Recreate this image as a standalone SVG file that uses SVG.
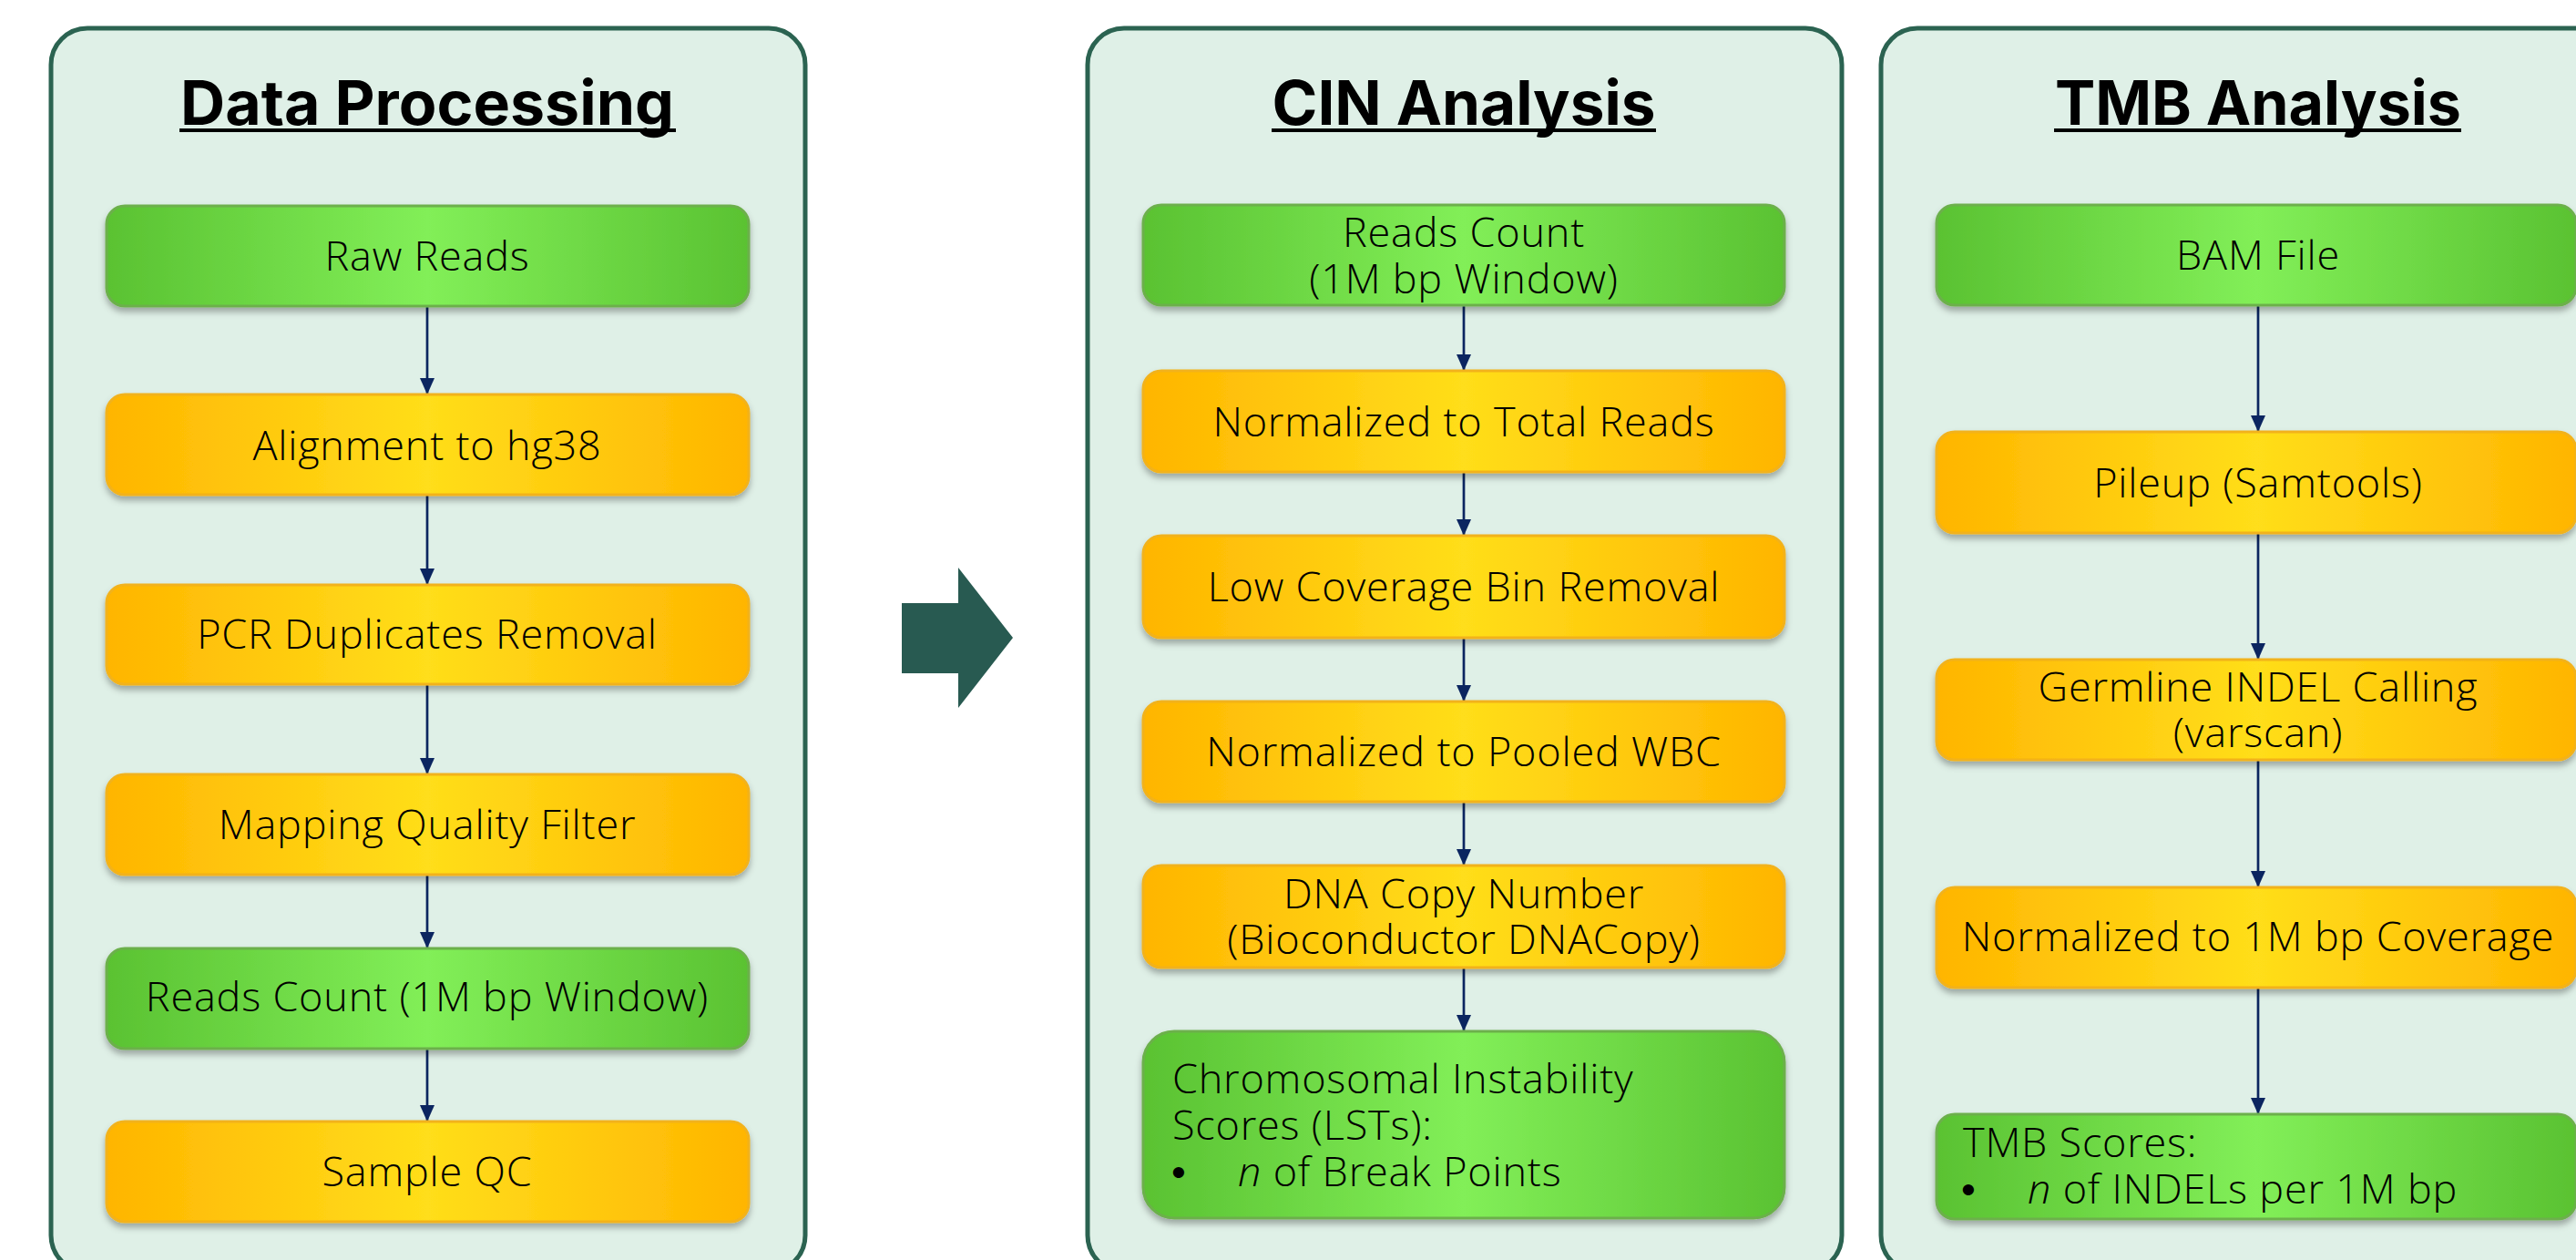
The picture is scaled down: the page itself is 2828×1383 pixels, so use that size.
<svg xmlns="http://www.w3.org/2000/svg" width="2828" height="1383" viewBox="0 0 2828 1383">
<defs>
<linearGradient id="gG" x1="0" y1="0" x2="1" y2="0">
<stop offset="0" stop-color="#5ac232"/><stop offset="0.5" stop-color="#82ef58"/><stop offset="1" stop-color="#5ac232"/>
</linearGradient>
<linearGradient id="gY" x1="0" y1="0" x2="1" y2="0">
<stop offset="0" stop-color="#ffb500"/><stop offset="0.5" stop-color="#ffde1a"/><stop offset="1" stop-color="#ffb500"/>
</linearGradient>
<filter id="sh" x="-5%" y="-20%" width="110%" height="150%">
<feDropShadow dx="0" dy="5" stdDeviation="3.5" flood-color="#000" flood-opacity="0.3"/>
</filter>
<marker id="ah" markerUnits="userSpaceOnUse" markerWidth="18" markerHeight="18" refX="18" refY="8" orient="auto">
<path d="M0,0 L18,8 L0,16 z" fill="#0b2560"/>
</marker>
<style>
.panel{fill:#dff0e7;stroke:#2b6351;stroke-width:5}
.g{fill:url(#gG);stroke:#6cb04c;stroke-width:3;filter:url(#sh)}
.y{fill:url(#gY);stroke:#f2b21a;stroke-width:3;filter:url(#sh)}
.t{font-family:"Open Sans",Inter,"Liberation Sans",sans-serif;font-weight:300;font-size:45px;letter-spacing:0.8px;fill:#000;text-anchor:middle}
.l{text-anchor:start}
.b{font-family:"Liberation Sans",sans-serif;font-weight:400;letter-spacing:0}
.h{font-family:Inter,"Liberation Sans",sans-serif;font-weight:700;font-size:67px;fill:#000;text-anchor:middle}
.ul{fill:#000}
.c{stroke:#0b2560;stroke-width:2.7;fill:none;marker-end:url(#ah)}
</style>
</defs>
<rect width="2828" height="1383" fill="#fff"/>

<g id="panel-data-processing">
<rect class="panel" x="56" y="31" width="828" height="1365" rx="40"/>
<text class="h" x="469" y="137" textLength="542" lengthAdjust="spacingAndGlyphs">Data Processing</text>
<rect class="ul" x="197" y="141" width="545" height="4"/>
</g>
<g id="panel-cin">
<rect class="panel" x="1194" y="31" width="828" height="1365" rx="40"/>
<text class="h" x="1607" y="137" textLength="421" lengthAdjust="spacingAndGlyphs">CIN Analysis</text>
<rect class="ul" x="1396" y="141" width="422" height="4"/>
</g>
<g id="panel-tmb">
<rect class="panel" x="2065" y="31" width="828" height="1365" rx="40"/>
<text class="h" x="2479" y="137" textLength="446" lengthAdjust="spacingAndGlyphs">TMB Analysis</text>
<rect class="ul" x="2255" y="141" width="447" height="4"/>
</g>

<g id="big-arrow">
<path d="M990,662 L1052,662 L1052,623 L1112,700 L1052,777 L1052,739 L990,739 z" fill="#285a51"/>
</g>

<g id="connectors">
<line class="c" x1="469" y1="337" x2="469" y2="433"/>
<line class="c" x1="469" y1="543" x2="469" y2="642"/>
<line class="c" x1="469" y1="751" x2="469" y2="850"/>
<line class="c" x1="469" y1="960" x2="469" y2="1041"/>
<line class="c" x1="469" y1="1151" x2="469" y2="1231"/>
<line class="c" x1="1607" y1="335" x2="1607" y2="407"/>
<line class="c" x1="1607" y1="518" x2="1607" y2="588"/>
<line class="c" x1="1607" y1="700" x2="1607" y2="770"/>
<line class="c" x1="1607" y1="880" x2="1607" y2="950"/>
<line class="c" x1="1607" y1="1062" x2="1607" y2="1132"/>
<line class="c" x1="2479" y1="335" x2="2479" y2="474"/>
<line class="c" x1="2479" y1="585" x2="2479" y2="724"/>
<line class="c" x1="2479" y1="834" x2="2479" y2="974"/>
<line class="c" x1="2479" y1="1084" x2="2479" y2="1223"/>
</g>

<g id="raw-reads"><rect class="g" x="117" y="226" width="705" height="110" rx="20"/><text class="t" x="469" y="297">Raw Reads</text></g>
<g id="alignment"><rect class="y" x="117" y="433" width="705" height="110" rx="20"/><text class="t" x="469" y="505">Alignment to hg38</text></g>
<g id="pcr-dup"><rect class="y" x="117" y="642" width="705" height="109" rx="20"/><text class="t" x="469" y="712">PCR Duplicates Removal</text></g>
<g id="mapq"><rect class="y" x="117" y="850" width="705" height="110" rx="20"/><text class="t" x="469" y="921">Mapping Quality Filter</text></g>
<g id="reads-count-1"><rect class="g" x="117" y="1041" width="705" height="110" rx="20"/><text class="t" x="469" y="1110">Reads Count (1M bp Window)</text></g>
<g id="sample-qc"><rect class="y" x="117" y="1231" width="705" height="110" rx="20"/><text class="t" x="469" y="1302">Sample QC</text></g>

<g id="reads-count-2"><rect class="g" x="1255" y="225" width="704" height="110" rx="20"/><text class="t"><tspan x="1607" y="271">Reads Count</tspan><tspan x="1607" y="322">(1M bp Window)</tspan></text></g>
<g id="norm-total"><rect class="y" x="1255" y="407" width="704" height="111" rx="20"/><text class="t" x="1607" y="479">Normalized to Total Reads</text></g>
<g id="low-cov"><rect class="y" x="1255" y="588" width="704" height="112" rx="20"/><text class="t" x="1607" y="660">Low Coverage Bin Removal</text></g>
<g id="norm-wbc"><rect class="y" x="1255" y="770" width="704" height="110" rx="20"/><text class="t" x="1607" y="841">Normalized to Pooled WBC</text></g>
<g id="dna-copy"><rect class="y" x="1255" y="950" width="704" height="112" rx="20"/><text class="t"><tspan x="1607" y="997">DNA Copy Number</tspan><tspan x="1607" y="1047">(Bioconductor DNACopy)</tspan></text></g>
<g id="cin-scores"><rect class="g" x="1255" y="1132" width="704" height="205" rx="34"/>
<text class="t l"><tspan x="1287" y="1200">Chromosomal Instability</tspan><tspan x="1287" y="1251">Scores (LSTs):</tspan><tspan class="b" x="1286" y="1302">•</tspan><tspan x="1359" y="1302" font-style="italic">n</tspan><tspan> of Break Points</tspan></text>
</g>

<g id="bam"><rect class="g" x="2126" y="225" width="702" height="110" rx="20"/><text class="t" x="2479" y="296">BAM File</text></g>
<g id="pileup"><rect class="y" x="2126" y="474" width="702" height="111" rx="20"/><text class="t" x="2479" y="546">Pileup (Samtools)</text></g>
<g id="germline"><rect class="y" x="2126" y="724" width="702" height="110" rx="20"/><text class="t"><tspan x="2479" y="770">Germline INDEL Calling</tspan><tspan x="2479" y="820">(varscan)</tspan></text></g>
<g id="norm-1m"><rect class="y" x="2126" y="974" width="702" height="110" rx="20"/><text class="t" x="2479" y="1044">Normalized to 1M bp Coverage</text></g>
<g id="tmb-scores"><rect class="g" x="2126" y="1223" width="702" height="115" rx="20"/>
<text class="t l"><tspan x="2155" y="1270">TMB Scores:</tspan><tspan class="b" x="2153" y="1321">•</tspan><tspan x="2226" y="1321" font-style="italic">n</tspan><tspan> of INDELs per 1M bp</tspan></text>
</g>
</svg>
